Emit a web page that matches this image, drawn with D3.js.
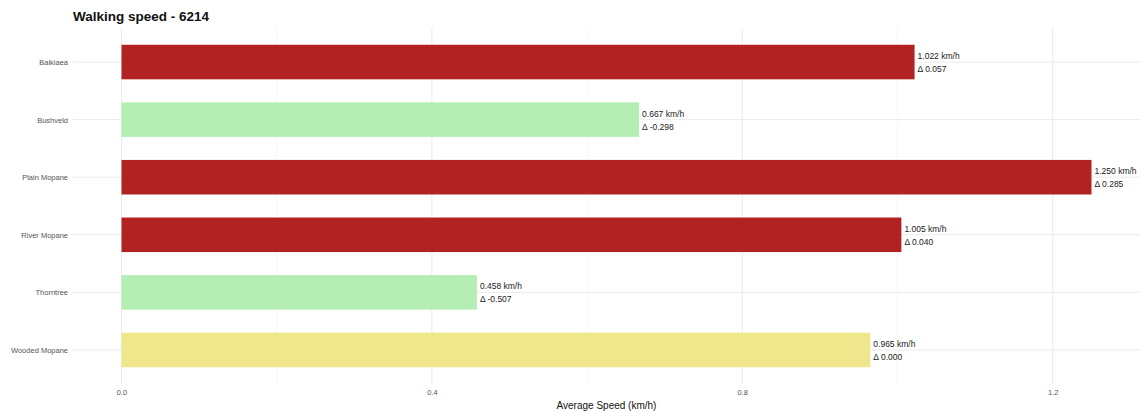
<!DOCTYPE html>
<html><head><meta charset="utf-8">
<script src="https://cdn.jsdelivr.net/npm/d3@7"></script>
<style>body{margin:0;background:#fff;} svg{display:block;font-family:"Liberation Sans",Arial,sans-serif;}</style>
</head><body>
<svg id="chart" width="1145" height="416"></svg>
<script>
const categories = ["Baikiaea","Bushveld","Plain Mopane","River Mopane","Thorntree","Wooded Mopane"];
const speeds = [1.022, 0.667, 1.250, 1.005, 0.458, 0.965];
const deltas = [0.057, -0.298, 0.285, 0.040, -0.507, 0.000];
const barColors = ["#B22222","#B4EEB4","#B22222","#B22222","#B4EEB4","#F0E68C"];
const xTicks = [0, 0.4, 0.8, 1.2];
const xMinor = [0.2, 0.6, 1.0];

const svg = d3.select("#chart");
const panel = {left: 73, right: 1140, top: 27.5, bottom: 384.5};
const maxV = d3.max(speeds);
const pad = maxV * 0.05;
const x = d3.scaleLinear().domain([-pad, maxV + pad]).range([panel.left, panel.right]);
const n = categories.length;
const step = (panel.bottom - panel.top) / (n - 1 + 1.2);
const yc = d3.scalePoint().domain(categories).range([panel.top + 0.6*step, panel.bottom - 0.6*step]);
const barH = step * 0.6;

const g = svg.append("g");
g.selectAll(".minor").data(xMinor).join("line")
  .attr("x1", d=>x(d)).attr("x2", d=>x(d)).attr("y1", panel.top).attr("y2", panel.bottom)
  .attr("stroke", "#f2f2f2").attr("stroke-width", 0.6);
g.selectAll(".major").data(xTicks).join("line")
  .attr("x1", d=>x(d)).attr("x2", d=>x(d)).attr("y1", panel.top).attr("y2", panel.bottom)
  .attr("stroke", "#ebebeb").attr("stroke-width", 1);
g.selectAll(".hgrid").data(categories).join("line")
  .attr("x1", panel.left).attr("x2", panel.right).attr("y1", d=>yc(d)).attr("y2", d=>yc(d))
  .attr("stroke", "#ebebeb").attr("stroke-width", 1);

g.selectAll(".bar").data(categories).join("rect")
  .attr("x", x(0)).attr("y", d=>yc(d) - barH/2)
  .attr("width", (d,i)=>x(speeds[i]) - x(0)).attr("height", barH)
  .attr("fill", (d,i)=>barColors[i]);

const lab = g.selectAll(".lab").data(categories).join("text")
  .attr("x", (d,i)=>x(speeds[i]) + 3).attr("y", d=>yc(d))
  .attr("font-size", 8.5).attr("fill", "#222");
lab.append("tspan").attr("x", (d,i)=>x(speeds[i]) + 3).attr("dy", -3)
  .text((d,i)=>speeds[i].toFixed(3) + " km/h");
lab.append("tspan").attr("x", (d,i)=>x(speeds[i]) + 3).attr("dy", 13)
  .text((d,i)=>"Δ " + deltas[i].toFixed(3));

const yAxis = d3.axisLeft(yc).tickSize(0).tickPadding(5);
const ya = svg.append("g").attr("transform", `translate(${panel.left},0)`).call(yAxis);
ya.select(".domain").remove();
ya.selectAll("text").attr("font-size", 7.5).attr("fill", "#555").attr("font-family", "'Liberation Sans',Arial,sans-serif");

const xAxis = d3.axisBottom(x).tickValues(xTicks).tickFormat(d3.format(".1f")).tickSize(0).tickPadding(5);
const xa = svg.append("g").attr("transform", `translate(0,${panel.bottom})`).call(xAxis);
xa.select(".domain").remove();
xa.selectAll("text").attr("font-size", 7.5).attr("fill", "#555").attr("font-family", "'Liberation Sans',Arial,sans-serif");

svg.append("text").attr("x", (panel.left + panel.right)/2).attr("y", 409)
  .attr("text-anchor", "middle").attr("font-size", 10).attr("fill", "#111")
  .text("Average Speed (km/h)");

svg.append("text").attr("x", 73).attr("y", 21)
  .attr("font-size", 13.5).attr("font-weight", "bold").attr("fill", "#111")
  .text("Walking speed - 6214");
</script>
</body></html>
